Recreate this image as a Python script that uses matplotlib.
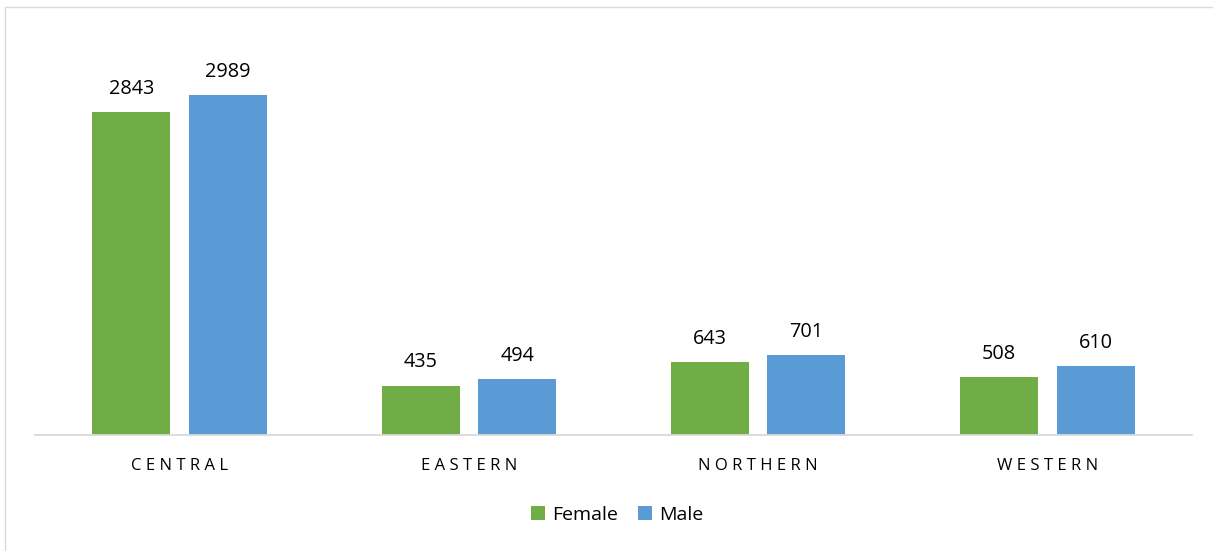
import matplotlib
matplotlib.use("Agg")
import matplotlib.pyplot as plt
from matplotlib.patches import Rectangle

categories = ["CENTRAL", "EASTERN", "NORTHERN", "WESTERN"]
female = [2843, 435, 643, 508]
male = [2989, 494, 701, 610]
series_names = ["Female", "Male"]

plt.rcParams['font.family'] = ['Open Sans', 'DejaVu Sans']

W, H = 1213, 551
fig = plt.figure(figsize=(W/100, H/100), dpi=100)
ax = fig.add_axes([35/W, 1-435/H, (1192-35)/W, 398/H])

x = list(range(len(categories)))
off, bw = 0.167, 0.27
b1 = ax.bar([i - off for i in x], female, width=bw, color="#70AD47", label=series_names[0], zorder=2)
b2 = ax.bar([i + off for i in x], male, width=bw, color="#5B9BD5", label=series_names[1], zorder=2)

for bars, vals in ((b1, female), (b2, male)):
    for r, v in zip(bars, vals):
        ax.annotate(str(v), (r.get_x() + r.get_width()/2, v), xytext=(0, 13),
                    textcoords="offset points", ha="center", va="baseline",
                    fontsize=14.3, color="#000000")

ax.set_xlim(-0.5, 3.5)
ax.set_ylim(0, 3500)
ax.set_yticks([])
ax.set_xticks(x)
ax.set_xticklabels([" ".join(c) for c in categories], fontsize=12, color="#000000")
ax.tick_params(axis="x", length=0, pad=16.5)
for s in ["top", "right", "left"]:
    ax.spines[s].set_visible(False)
ax.spines["bottom"].set_color("#D9D9D9")
ax.spines["bottom"].set_linewidth(1.3)

fig.legend(handles=[b1, b2], labels=series_names, loc="center",
           bbox_to_anchor=(617/W, 1-515/H), ncol=2, frameon=False,
           fontsize=14, handlelength=0.72, handleheight=0.72,
           handletextpad=0.36, columnspacing=1.03)

fig.patches.append(Rectangle((5/W, -1), 2, 2-7/H, transform=fig.transFigure,
                             fill=False, edgecolor="#D9D9D9", linewidth=1.0))

fig.savefig("out.png", dpi=100)
